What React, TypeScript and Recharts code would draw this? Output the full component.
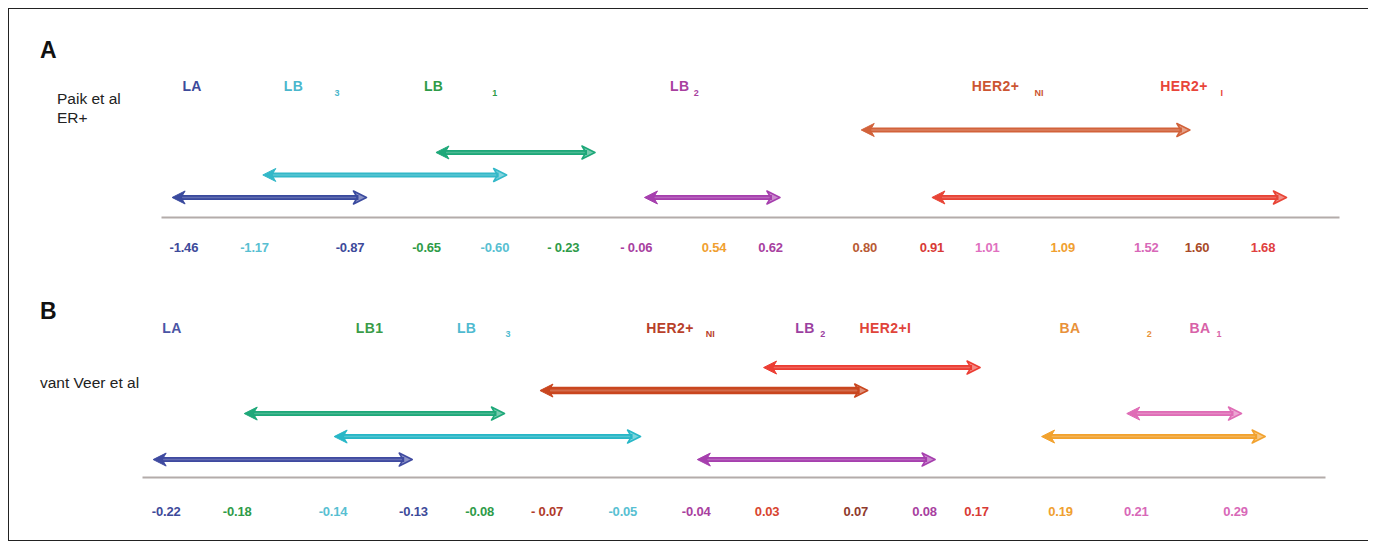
import React from 'react';
import { ComposedChart, XAxis, YAxis, ReferenceLine, Scatter } from 'recharts';

const FONT = '"Liberation Sans", Arial, Helvetica, sans-serif';

// ---------------- Panel A : Paik et al, ER+ ----------------
// schematic axis: tick labels and where they sit along the axis (0-100 axis units)
const tickLabelsA = ['-1.46', '-1.17', '-0.87', '-0.65', '-0.60', '- 0.23', '- 0.06', '0.54', '0.62', '0.80', '0.91', '1.01', '1.09', '1.52', '1.60', '1.68'];
const tickAtA = [1.9, 7.9, 16.0, 22.5, 28.3, 34.1, 40.3, 46.9, 51.7, 59.7, 65.4, 70.1, 76.5, 83.6, 87.9, 93.5];
// subtype ranges (double-headed arrows)
const subtypesA = ['LA', 'LB3', 'LB1', 'LB2', 'HER2+NI', 'HER2+I'];
const fromA = [0.9, 8.6, 23.3, 41.0, 59.4, 65.4];
const toA = [17.4, 29.3, 36.8, 52.5, 87.3, 95.5];
const levelA = [1, 2, 3, 1, 4, 1];
// header labels along the top axis
const headerTextA = ['LA', 'LB', '3', 'LB', '1', 'LB', '2', 'HER2+', 'NI', 'HER2+', 'I'];
const headerAtA = [2.6, 11.2, 14.9, 23.1, 28.3, 44.0, 45.4, 70.8, 74.5, 86.8, 90.0];
const headerSubA = [0, 0, 1, 0, 1, 0, 1, 0, 1, 0, 1];

// ---------------- Panel B : vant Veer et al ----------------
const tickLabelsB = ['-0.22', '-0.18', '-0.14', '-0.13', '-0.08', '- 0.07', '-0.05', '-0.04', '0.03', '0.07', '0.08', '0.17', '0.19', '0.21', '0.29'];
const tickAtB = [2.0, 8.0, 16.1, 22.9, 28.5, 34.2, 40.6, 46.8, 52.8, 60.3, 66.1, 70.5, 77.6, 84.0, 92.4];
const subtypesB = ['LA', 'LB1', 'LB3', 'HER2+NI', 'LB2', 'HER2+I', 'BA2', 'BA1'];
const fromB = [0.9, 8.6, 16.2, 33.6, 46.9, 52.5, 76.0, 83.2];
const toB = [22.8, 30.6, 42.1, 61.3, 67.0, 70.8, 94.9, 92.9];
const levelB = [1, 3, 2, 4, 1, 5, 2, 3];
const headerTextB = ['LA', 'LB1', 'LB', '3', 'HER2+', 'NI', 'LB', '2', 'HER2+I', 'BA', '2', 'BA', '1'];
const headerAtB = [2.5, 19.2, 27.4, 30.9, 44.6, 48.0, 56.0, 57.5, 62.8, 78.4, 85.1, 89.4, 91.0];
const headerSubB = [0, 0, 0, 1, 0, 1, 0, 1, 0, 0, 1, 0, 1];

// ---------------- styles ----------------
const tickColorsA = ['#3d4a9a', '#58bfd2', '#3d4a9a', '#2e9b48', '#58bfd2', '#2e9b48', '#a8409f', '#f0a030', '#a8409f', '#b85a34', '#d83a35', '#e070c0', '#f0a030', '#d868b8', '#a84a28', '#e04040'];
const tickColorsB = ['#3d4a9a', '#2e9b48', '#58bfd2', '#3d4a9a', '#2e9b48', '#b03a2a', '#58bfd2', '#a8409f', '#d8452f', '#8f3a2c', '#a8409f', '#d83a35', '#f0a030', '#d868b8', '#d868b8'];
const headerColorsA = ['#3d4a9a', '#4ab6cc', '#4ab6cc', '#2e9b48', '#2e9b48', '#a8409f', '#a8409f', '#cc5532', '#cc5532', '#e8453a', '#e8453a'];
const headerColorsB = ['#4a55a5', '#3a9c48', '#4fbad0', '#4fbad0', '#b8402a', '#b8402a', '#9c3fa0', '#9c3fa0', '#e0443a', '#e8913a', '#e8913a', '#d862a8', '#d862a8'];
const arrowColorA: Record<string, string> = { LA: '#3a4a9e', LB3: '#33b8c8', LB1: '#1ea879', LB2: '#a63fae', 'HER2+NI': '#d2623a', 'HER2+I': '#e84436' };
const arrowColorB: Record<string, string> = { LA: '#3f4aa0', LB1: '#1ea879', LB3: '#27b7c7', 'HER2+NI': '#c9461f', LB2: '#a63fae', 'HER2+I': '#ec3d33', BA2: '#f2a22e', BA1: '#df6cb6' };
const arrowWidthB: Record<string, number> = { 'HER2+NI': 7.5 };

const Arrow = (props: any) => {
  const { x1, y1, x2, y2, color, w } = props;
  if (x1 == null || x2 == null) return <g />;
  const hl = 13;
  const hw = 6.5;
  const s = x1 < x2 ? 1 : -1;
  const a = x1, b = x2;
  return (
    <g>
      <line x1={a + s * 8} y1={y1} x2={b - s * 8} y2={y2} stroke={color} strokeWidth={w} />
      <line x1={a + s * 10} y1={y1} x2={b - s * 10} y2={y2} stroke="#ffffff" strokeOpacity={0.2} strokeWidth={w * 0.28} />
      <polygon
        points={`${a},${y1} ${a + s * hl},${y1 - hw} ${a + s * hl * 0.7},${y1} ${a + s * hl},${y1 + hw}`}
        fill={color}
        stroke={color}
        strokeWidth={1}
        strokeLinejoin="round"
      />
      <polygon
        points={`${b},${y2} ${b - s * hl},${y2 - hw} ${b - s * hl * 0.7},${y2} ${b - s * hl},${y2 + hw}`}
        fill={color}
        fillOpacity={0.6}
        stroke={color}
        strokeWidth={1.6}
        strokeLinejoin="round"
      />
    </g>
  );
};

const Nothing = () => <g />;

type PanelProps = {
  top: number;
  height: number;
  margin: { top: number; right: number; bottom: number; left: number };
  yDomain: [number, number];
  tickLabels: string[];
  tickAt: number[];
  tickColors: string[];
  tickOffset: number;
  subtypes: string[];
  from: number[];
  to: number[];
  level: number[];
  arrowColor: Record<string, string>;
  arrowWidth: Record<string, number>;
  headerText: string[];
  headerAt: number[];
  headerSub: number[];
  headerColors: string[];
  headerOffset: number;
  subOffset: number;
};

const Panel = (p: PanelProps) => {
  const renderTick = (tp: any) => {
    const i = tp.index;
    return (
      <text
        x={tp.x}
        y={tp.y + p.tickOffset}
        textAnchor="middle"
        dominantBaseline="central"
        fontFamily={FONT}
        fontWeight="bold"
        fontSize={13}
        letterSpacing={-0.2}
        fill={p.tickColors[i]}
      >
        {p.tickLabels[i]}
      </text>
    );
  };
  const renderHeader = (tp: any) => {
    const i = tp.index;
    const sub = p.headerSub[i] === 1;
    return (
      <text
        x={tp.x}
        y={tp.y + (sub ? p.subOffset : p.headerOffset)}
        textAnchor="middle"
        dominantBaseline="central"
        fontFamily={FONT}
        fontWeight="bold"
        fontSize={sub ? 9 : 14}
        letterSpacing={sub ? 0 : 0.4}
        fill={p.headerColors[i]}
      >
        {p.headerText[i]}
      </text>
    );
  };
  const arrowPoints = p.subtypes.flatMap((_, i) => [
    { x: p.from[i], y: p.level[i] },
    { x: p.to[i], y: p.level[i] },
  ]);
  const headerPoints = p.headerAt.map((x) => ({ x, y: p.yDomain[1] }));
  return (
    <div style={{ position: 'absolute', left: 0, top: p.top }}>
      <ComposedChart width={1360} height={p.height} margin={p.margin}>
        <XAxis
          xAxisId="axis"
          dataKey="x"
          type="number"
          domain={[0, 100]}
          allowDataOverflow
          ticks={p.tickAt}
          interval={0}
          tick={renderTick}
          tickLine={false}
          tickSize={0}
          tickMargin={0}
          axisLine={{ stroke: '#b3acaa', strokeWidth: 2 }}
          height={50}
        />
        <XAxis
          xAxisId="head"
          dataKey="x"
          orientation="top"
          type="number"
          domain={[0, 100]}
          allowDataOverflow
          ticks={p.headerAt}
          interval={0}
          tick={renderHeader}
          tickLine={false}
          tickSize={0}
          tickMargin={0}
          axisLine={false}
          height={30}
        />
        <YAxis yAxisId="lvl" dataKey="y" type="number" domain={p.yDomain} allowDataOverflow hide />
        <Scatter xAxisId="axis" yAxisId="lvl" data={arrowPoints} shape={Nothing} isAnimationActive={false} />
        <Scatter xAxisId="head" yAxisId="lvl" data={headerPoints} shape={Nothing} isAnimationActive={false} />
        {p.subtypes.map((name, i) => (
          <ReferenceLine
            key={name}
            xAxisId="axis"
            yAxisId="lvl"
            ifOverflow="visible"
            segment={[
              { x: p.from[i], y: p.level[i] },
              { x: p.to[i], y: p.level[i] },
            ]}
            shape={(lp: any) => (
              <Arrow {...lp} color={p.arrowColor[name]} w={p.arrowWidth[name] ?? 5} />
            )}
          />
        ))}
      </ComposedChart>
    </div>
  );
};

export default function App() {
  return (
    <div
      style={{
        position: 'relative',
        width: 1363,
        height: 533,
        boxSizing: 'border-box',
        border: '1.5px solid #222',
        background: '#fff',
        fontFamily: FONT,
      }}
    >
      <div style={{ position: 'absolute', left: 31, top: 30, fontSize: 23, fontWeight: 'bold', color: '#111', lineHeight: 1 }}>A</div>
      <div style={{ position: 'absolute', left: 48, top: 80, fontSize: 15.5, color: '#222', lineHeight: '19px' }}>
        Paik et al
        <br />
        ER+
      </div>
      <div style={{ position: 'absolute', left: 31, top: 291, fontSize: 23, fontWeight: 'bold', color: '#111', lineHeight: 1 }}>B</div>
      <div style={{ position: 'absolute', left: 31, top: 364, fontSize: 15.5, color: '#222', lineHeight: '19px' }}>vant Veer et al</div>

      <Panel
        top={0}
        height={260}
        margin={{ top: 60.5, right: 29.5, bottom: 1.5, left: 152.5 }}
        yDomain={[0.11, 5.354]}
        tickLabels={tickLabelsA}
        tickAt={tickAtA}
        tickColors={tickColorsA}
        tickOffset={30}
        subtypes={subtypesA}
        from={fromA}
        to={toA}
        level={levelA}
        arrowColor={arrowColorA}
        arrowWidth={{}}
        headerText={headerTextA}
        headerAt={headerAtA}
        headerSub={headerSubA}
        headerColors={headerColorsA}
        headerOffset={-14}
        subOffset={-7}
      />
      <Panel
        top={262}
        height={262}
        margin={{ top: 48.5, right: 43.5, bottom: 5.5, left: 133.5 }}
        yDomain={[0.22, 5.785]}
        tickLabels={tickLabelsB}
        tickAt={tickAtB}
        tickColors={tickColorsB}
        tickOffset={34}
        subtypes={subtypesB}
        from={fromB}
        to={toB}
        level={levelB}
        arrowColor={arrowColorB}
        arrowWidth={arrowWidthB}
        headerText={headerTextB}
        headerAt={headerAtB}
        headerSub={headerSubB}
        headerColors={headerColorsB}
        headerOffset={-22}
        subOffset={-16}
      />
    </div>
  );
}
